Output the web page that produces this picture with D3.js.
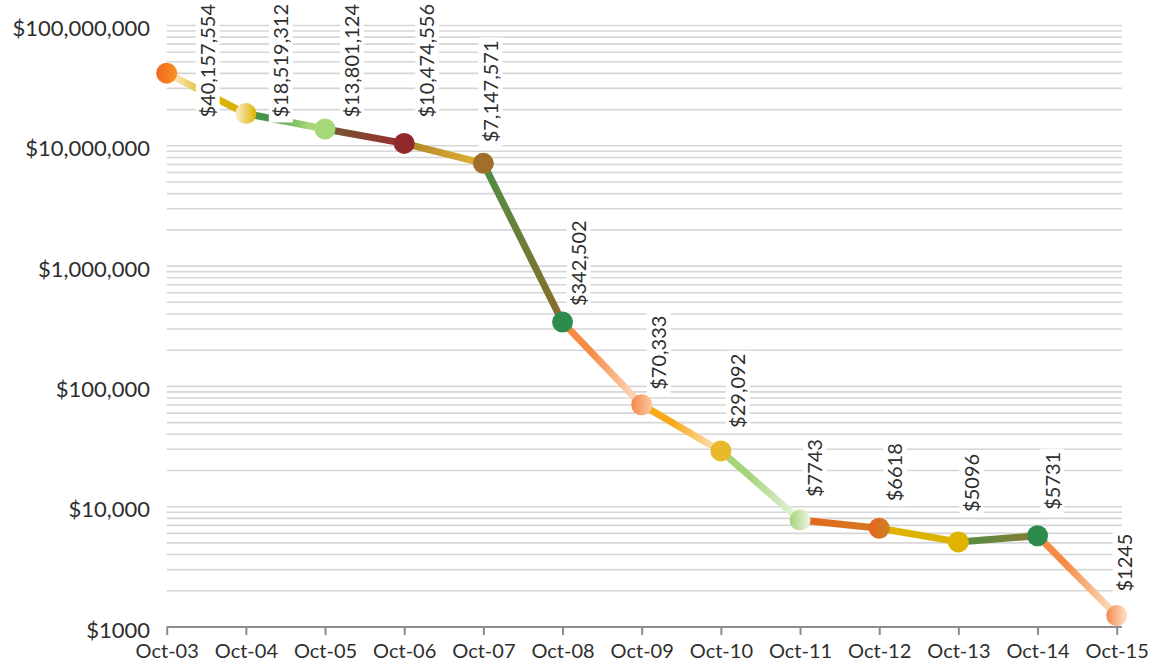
<!DOCTYPE html>
<html>
<head>
<meta charset="utf-8">
<script src="https://cdn.jsdelivr.net/npm/d3@7"></script>
<style>
  html, body { margin: 0; padding: 0; background: #fff; }
  svg { display: block; font-family: Lato, "Open Sans", sans-serif; }
</style>
</head>
<body>
<svg id="chart" width="1150" height="664"></svg>
<script>
/* the data, one point per year */
var years = ["Oct-03", "Oct-04", "Oct-05", "Oct-06", "Oct-07", "Oct-08", "Oct-09",
             "Oct-10", "Oct-11", "Oct-12", "Oct-13", "Oct-14", "Oct-15"];
var values = [40157554, 18519312, 13801124, 10474556, 7147571, 342502, 70333,
              29092, 7743, 6618, 5096, 5731, 1245];
var yTicks = [1000, 10000, 100000, 1000000, 10000000, 100000000];

/* colours: left and right stop of every marker and every segment */
var markerColors = [["#f26522", "#f7941d"], ["#fcefd0", "#dcb300"], ["#a6d97a", "#a6d97a"],
                    ["#93282c", "#93282c"], ["#a0702a", "#a0702a"], ["#2e8b4e", "#2e8b4e"],
                    ["#f5884a", "#fbc9a2"], ["#e8b92a", "#e8b92a"], ["#a5d47b", "#eef6e6"],
                    ["#ea6220", "#c98222"], ["#dfb400", "#dfb400"], ["#2e8b4e", "#2e8b4e"],
                    ["#f5884a", "#fde3cc"]];
var segColors = [["#fbe6bc", "#dab300"], ["#45954a", "#a6d77a"], ["#735a34", "#9b2b2e"],
                 ["#ad8428", "#e3b434"], ["#4e8f45", "#8b6b2a"], ["#f58b45", "#fde3cc"],
                 ["#f7ab18", "#fde7c8"], ["#a5d47b", "#eef6e6"], ["#e8651e", "#cf7c20"],
                 ["#dfb200", "#dcb300"], ["#4f8e45", "#8b7a32"], ["#f58b45", "#fde3cc"]];
/* where each segment's blend starts and ends along its length */
var segBlend = [[0.1, 0.55], [0.25, 0.8], [0, 1], [0, 1], [0, 1], [0.35, 1],
                [0.4, 1], [0.35, 1], [0, 1], [0, 1], [0, 1], [0.35, 1]];

/* label nudges (layout only): horizontal shift, gap above marker (null = pinned to top) */
var labelDx = [41, 35, 27, 23, 7, 16, 17, 17, 15, 16, 13, 15, 8];
var labelGap = [null, null, null, null, 21, 16, 15, 23, 23, 27, 30, 26, 24];

var svg = d3.select("#chart");
var plotL = 166.7, plotR = 1116.7, plotT = 25.5, plotB = 627;

var x = d3.scalePoint().domain(years).range([plotL, plotR]);
var y = d3.scaleLog().domain([1000, 100000000]).range([plotB, plotT]);

function money(v) {
  return v >= 10000 ? d3.format("$,")(v) : "$" + v;
}

/* gridlines: every 1..9 step of each decade */
var grid = [];
yTicks.forEach(function(t) {
  if (t == 100000000) { grid.push(t); return; }
  for (var k = 1; k < 10; k++) grid.push(t * k);
});
svg.append("g").selectAll("line")
  .data(grid.filter(function(d) { return d > 1000; }))
  .enter().append("line")
  .attr("x1", plotL).attr("x2", 1122)
  .attr("y1", function(d) { return y(d); })
  .attr("y2", function(d) { return y(d); })
  .style("stroke", "#d6d6d6")
  .style("stroke-width", 1.6);

/* y axis labels */
svg.append("g").selectAll("text")
  .data(yTicks)
  .enter().append("text")
  .attr("x", 150)
  .attr("y", function(d) { return y(d); })
  .attr("dy", "0.48em")
  .attr("text-anchor", "end")
  .style("font-size", "22px")
  .style("fill", "#2e2e2e")
  .text(money);

/* x axis */
var xAxis = svg.append("g").attr("transform", "translate(0," + plotB + ")")
  .call(d3.axisBottom(x).tickSize(8).tickSizeOuter(0).tickPadding(9));
xAxis.select(".domain").attr("d", "M" + plotL + ",0H1122")
  .style("stroke", "#8c8c8c").style("stroke-width", 2);
xAxis.selectAll(".tick line").style("stroke", "#8c8c8c").style("stroke-width", 2);
xAxis.selectAll(".tick text")
  .style("font-size", "20px").style("fill", "#2e2e2e")
  .style("font-family", "Lato, sans-serif");

var pts = years.map(function(yr, i) {
  return {year: yr, value: values[i], x: x(yr), y: y(values[i]), i: i};
});

/* gradients, running left to right */
var defs = svg.append("defs");
function addGrad(id, stops, x1, x2, o) {
  o = o || [0, 1];
  var g = defs.append("linearGradient").attr("id", id)
    .attr("gradientUnits", "userSpaceOnUse")
    .attr("x1", x1).attr("x2", x2).attr("y1", 0).attr("y2", 0);
  g.append("stop").attr("offset", o[0]).attr("stop-color", stops[0]);
  g.append("stop").attr("offset", o[1]).attr("stop-color", stops[1]);
}
segColors.forEach(function(c, i) { addGrad("seg" + i, c, pts[i].x, pts[i + 1].x, segBlend[i]); });
markerColors.forEach(function(c, i) { addGrad("mk" + i, c, pts[i].x - 10.5, pts[i].x + 10.5); });

/* line segments, each with its own gradient */
var segs = d3.range(pts.length - 1).map(function(i) {
  return {a: pts[i], b: pts[i + 1], i: i};
});
svg.append("g").selectAll("path")
  .data(segs)
  .enter().append("path")
  .attr("d", function(s) {
    return "M" + s.a.x + "," + s.a.y + "L" + s.b.x + "," + s.b.y;
  })
  .style("fill", "none")
  .style("stroke", function(s) { return "url(#seg" + s.i + ")"; })
  .style("stroke-width", 7)
  .style("stroke-linecap", "butt");

/* markers */
svg.append("g").selectAll("circle")
  .data(pts)
  .enter().append("circle")
  .attr("cx", function(d) { return d.x; })
  .attr("cy", function(d) { return d.y; })
  .attr("r", 10.5)
  .style("fill", function(d) { return "url(#mk" + d.i + ")"; });

/* value labels, rotated, on a white box */
var lab = svg.append("g").selectAll("g")
  .data(pts)
  .enter().append("g");
lab.append("rect").style("fill", "#fff");
lab.append("text")
  .attr("text-anchor", "start")
  .attr("dy", "0.36em")
  .style("font-size", "20px")
  .style("fill", "#2e2e2e")
  .text(function(d) { return money(d.value); });

lab.each(function(d) {
  var g = d3.select(this);
  var t = g.select("text");
  var len = t.node().getComputedTextLength();
  var cx = d.x + labelDx[d.i];
  var bot = labelGap[d.i] == null ? 4 + len : d.y - labelGap[d.i];
  t.attr("transform", "translate(" + cx + "," + bot + ") rotate(-90)");
  g.select("rect")
    .attr("x", cx - 12).attr("y", bot - len - 3)
    .attr("width", 24).attr("height", len + 8);
});
</script>
</body>
</html>
